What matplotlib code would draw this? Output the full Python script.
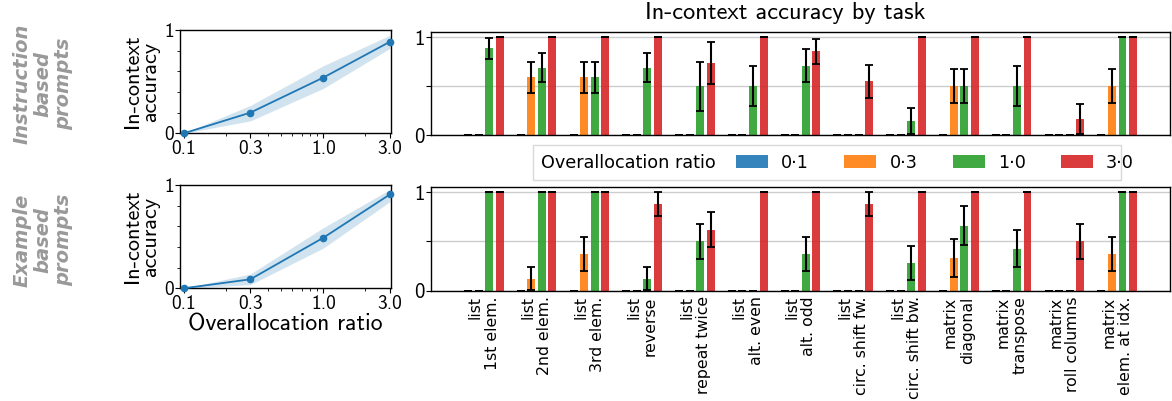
import numpy as np
import matplotlib
matplotlib.use("Agg")
import matplotlib.pyplot as plt
from matplotlib.patches import Rectangle, Patch
from matplotlib.ticker import FixedLocator, NullFormatter

plt.rcParams['font.family'] = ['cmss10', 'DejaVu Sans']
plt.rcParams['axes.unicode_minus'] = False

# ---------------- data ----------------
tasks = ['list\n1st elem.', 'list\n2nd elem.', 'list\n3rd elem.', 'list\nreverse',
         'list\nrepeat twice', 'list\nalt. even', 'list\nalt. odd', 'list\ncirc. shift fw.',
         'list\ncirc. shift bw.', 'matrix\ndiagonal', 'matrix\ntranspose',
         'matrix\nroll columns', 'matrix\nelem. at idx.']
ratios = [0.1, 0.3, 1.0, 3.0]
ratio_labels = ['0·1', '0·3', '1·0', '3·0']
ratio_ticklabels = ['0.1', '0.3', '1.0', '3.0']

# instruction based prompts: per-task accuracy for each ratio
instr_01 = [0, 0, 0, 0, 0, 0, 0, 0, 0, 0, 0, 0, 0]
instr_03 = [0, 0.59, 0.59, 0, 0, 0, 0, 0, 0, 0.5, 0, 0, 0.5]
instr_10 = [0.885, 0.69, 0.59, 0.69, 0.5, 0.5, 0.71, 0, 0.145, 0.5, 0.5, 0, 1.0]
instr_30 = [1, 1, 1, 1, 0.74, 1, 0.855, 0.55, 1, 1, 1, 0.165, 1]
instr_err_01 = [0] * 13
instr_err_03 = [0, 0.155, 0.155, 0, 0, 0, 0, 0, 0, 0.175, 0, 0, 0.175]
instr_err_10 = [0.108, 0.145, 0.155, 0.145, 0.25, 0.205, 0.17, 0, 0.13, 0.175, 0.205, 0, 0]
instr_err_30 = [0, 0, 0, 0, 0.215, 0, 0.13, 0.168, 0, 0, 0, 0.155, 0]

# example based prompts
ex_01 = [0, 0, 0, 0, 0, 0, 0, 0, 0, 0, 0, 0, 0]
ex_03 = [0, 0.123, 0.375, 0, 0, 0, 0, 0, 0, 0.334, 0, 0, 0.375]
ex_10 = [1, 1, 1, 0.123, 0.5, 0, 0.375, 0, 0.283, 0.662, 0.427, 0, 1]
ex_30 = [1, 1, 1, 0.88, 0.62, 1, 1, 0.88, 1, 1, 1, 0.5, 1]
ex_err_01 = [0] * 13
ex_err_03 = [0, 0.12, 0.172, 0, 0, 0, 0, 0, 0, 0.195, 0, 0, 0.172]
ex_err_10 = [0, 0, 0, 0.12, 0.18, 0, 0.172, 0, 0.172, 0.196, 0.19, 0, 0]
ex_err_30 = [0, 0, 0, 0.12, 0.175, 0, 0, 0.12, 0, 0, 0, 0.18, 0]

# mean accuracy over tasks with band
instr_mean = [0, 0.20, 0.54, 0.887]
instr_lo = [0, 0.12, 0.435, 0.823]
instr_hi = [0, 0.27, 0.655, 0.95]
ex_mean = [0, 0.087, 0.49, 0.91]
ex_lo = [0, 0.035, 0.39, 0.84]
ex_hi = [0, 0.139, 0.587, 0.958]

colors = ['#1f77b4', '#ff7f0e', '#2ca02c', '#d62728']

W, H = 1172, 401
fig = plt.figure(figsize=(W / 100, H / 100), dpi=100)


def rect(x0, y0, x1, y1):
    return [x0 / W, 1 - y1 / H, (x1 - x0) / W, (y1 - y0) / H]


ax_l1 = fig.add_axes(rect(180.3, 30, 390.7, 133.3))
ax_l2 = fig.add_axes(rect(180.3, 185, 390.7, 288.3))
ax_r1 = fig.add_axes(rect(431, 32.3, 1170, 135.3))
ax_r2 = fig.add_axes(rect(431, 187.3, 1170, 290.7))


def line_panel(ax, mean, lo, hi, xlabel=False):
    ax.fill_between(ratios, lo, hi, color=colors[0], alpha=0.2, lw=0)
    ax.plot(ratios, mean, color=colors[0], lw=1.3, marker='o', ms=4.5, clip_on=False, zorder=3)
    ax.set_xscale('log')
    ax.set_xlim(0.0946, 3.03)
    ax.set_ylim(0, 1)
    ax.xaxis.set_major_locator(FixedLocator(ratios))
    ax.set_xticklabels(ratio_ticklabels)
    ax.xaxis.set_minor_formatter(NullFormatter())
    ax.set_yticks([0, 1])
    ax.set_yticklabels(['0', '1'])
    ax.yaxis.set_minor_locator(FixedLocator([0.2, 0.4, 0.6, 0.8]))
    ax.tick_params(labelsize=14, length=3.5, width=0.8, pad=1)
    ax.tick_params(which='minor', length=2, width=0.6)
    ax.set_ylabel('In-context\naccuracy', fontsize=16, linespacing=0.95, labelpad=3)
    for s in ax.spines.values():
        s.set_linewidth(1.0)
    if xlabel:
        ax.set_xlabel('Overallocation ratio', fontsize=17, labelpad=1)


line_panel(ax_l1, instr_mean, instr_lo, instr_hi)
line_panel(ax_l2, ex_mean, ex_lo, ex_hi, xlabel=True)

x = np.arange(len(tasks))
offsets = [-0.3, -0.1, 0.1, 0.3]


def bar_panel(ax, vals, errs, show_labels):
    for i in range(4):
        ax.bar(x + offsets[i], vals[i], width=0.15, color=colors[i], alpha=0.9, zorder=2)
        ax.errorbar(x + offsets[i], vals[i], yerr=errs[i], fmt='none', ecolor='black',
                    elinewidth=1.5, capsize=3, capthick=1.3, zorder=3)
    ax.set_xlim(-1, 13)
    ax.set_ylim(0, 1.05)
    ax.set_yticks([0, 0.5, 1])
    ax.set_yticklabels(['0', '', '1'])
    ax.yaxis.grid(True, color='#cccccc', lw=1)
    ax.set_axisbelow(True)
    ax.set_xticks(x)
    if show_labels:
        ax.set_xticklabels(tasks, rotation=90, ha='center', va='top', multialignment='right',
                           fontsize=11.3, family='DejaVu Sans', linespacing=1.15)
    else:
        ax.set_xticklabels([])
    ax.tick_params(axis='x', length=0, pad=4)
    ax.tick_params(axis='y', labelsize=15, length=3.5, width=0.8, pad=1)
    for s in ax.spines.values():
        s.set_linewidth(1.0)


bar_panel(ax_r1, [instr_01, instr_03, instr_10, instr_30],
          [instr_err_01, instr_err_03, instr_err_10, instr_err_30], False)
bar_panel(ax_r2, [ex_01, ex_03, ex_10, ex_30],
          [ex_err_01, ex_err_03, ex_err_10, ex_err_30], True)

fig.text(785 / W, 1 - 18.5 / H, 'In-context accuracy by task', ha='center', va='baseline',
         fontsize=17.5)

# row labels
for txt, yc in [('Instruction\nbased\nprompts', 84), ('Example\nbased\nprompts', 240)]:
    fig.text(43 / W, 1 - yc / H, txt, rotation=90, ha='center', va='center',
             multialignment='center', fontsize=14, color='#999999', fontweight='bold',
             style='italic', family='DejaVu Sans', linespacing=1.1)

# legend
fig.add_artist(Rectangle((533 / W, 1 - 180 / H), (1121 - 533) / W, 35 / H,
                         transform=fig.transFigure, facecolor='white',
                         edgecolor='#d9d9d9', lw=1.0))
fig.text(540.7 / W, 1 - 162.5 / H, 'Overallocation ratio', ha='left', va='center',
         fontsize=12.7, family='DejaVu Sans')
handles = [Patch(facecolor=c, alpha=0.9) for c in colors]
fig.legend(handles, ratio_labels, ncol=4, loc='center left',
           bbox_to_anchor=(736 / W, 1 - 162.5 / H), frameon=False, borderpad=0,
           borderaxespad=0, handlelength=1.82, handleheight=0.7, handletextpad=0.74,
           columnspacing=2.0, prop={'family': 'DejaVu Sans', 'size': 12.7})

fig.savefig('out.png', dpi=100)
